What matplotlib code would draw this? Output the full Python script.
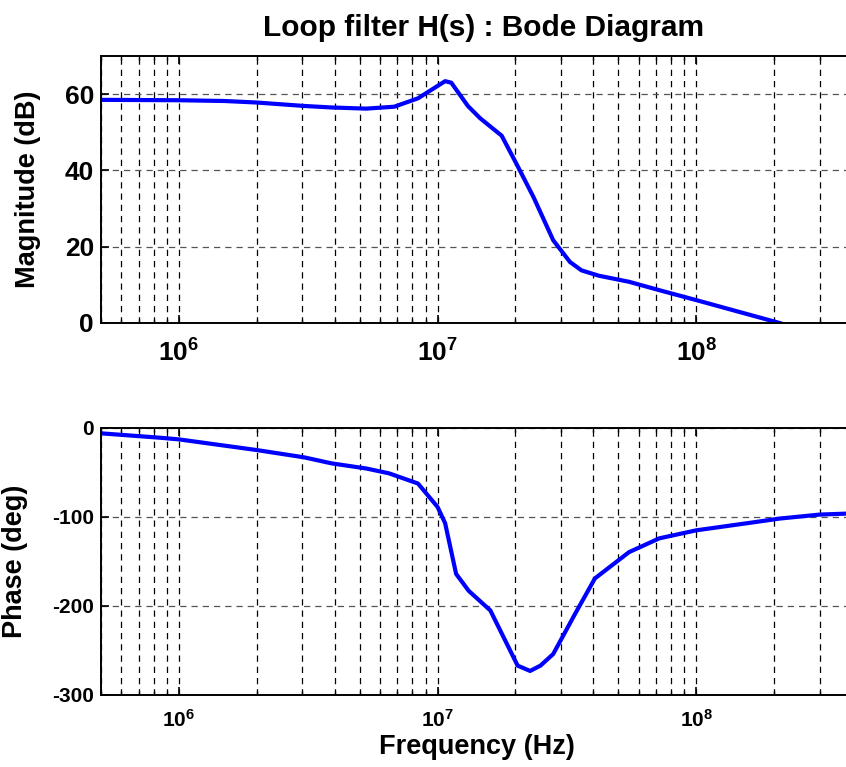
import numpy as np
import matplotlib
matplotlib.use('Agg')
import matplotlib.pyplot as plt
from matplotlib.ticker import LogLocator, NullFormatter

plt.rcParams['font.family'] = ['Liberation Sans', 'DejaVu Sans']
plt.rcParams['font.weight'] = 'bold'
plt.rcParams['mathtext.fontset'] = 'custom'
plt.rcParams['mathtext.rm'] = 'Liberation Sans:bold'
plt.rcParams['mathtext.bf'] = 'Liberation Sans:bold'
plt.rcParams['axes.unicode_minus'] = False

# Magnitude response (Hz, dB)
mag_freq = [5e5, 1e6, 1.5e6, 2e6, 3.05e6, 3.9e6, 5.3e6, 6.8e6, 8.4e6, 1.07e7,
            1.13e7, 1.31e7, 1.46e7, 1.77e7, 2.02e7, 2.35e7, 2.8e7, 3.25e7,
            3.6e7, 4.2e7, 5.5e7, 7.2e7, 1e8, 2.1e8, 4e8]
mag_db = [58.5, 58.4, 58.2, 57.8, 56.9, 56.5, 56.2, 56.7, 58.9, 63.4,
          63.0, 56.9, 53.7, 49.1, 41.7, 33.0, 21.7, 16.0,
          13.8, 12.4, 10.8, 8.6, 6.0, 0.0, -6.0]

# Phase response (Hz, deg)
ph_freq = [5e5, 8.5e5, 1e6, 2e6, 3.05e6, 3.9e6, 5.3e6, 6.5e6, 8.4e6, 1e7,
           1.07e7, 1.18e7, 1.32e7, 1.6e7, 2.04e7, 2.28e7, 2.5e7, 2.8e7,
           3.4e7, 4.06e7, 5.5e7, 7.2e7, 1e8, 1.6e8, 2.1e8, 3e8, 4e8]
ph_deg = [-6, -11, -12.8, -24.8, -33, -39.8, -45.5, -51, -62.4, -88.7,
          -107, -164, -183, -205, -267, -273, -267, -254,
          -209, -169, -139.5, -124, -115, -106.7, -101.8, -97.3, -96]

xlim = (5e5, 4e8)
xticks = [1e6, 1e7, 1e8]

fig = plt.figure(figsize=(8.46, 7.67), dpi=100)
ax1 = fig.add_axes([0.1194, 0.5789, 0.8876, 0.3481])
ax2 = fig.add_axes([0.1194, 0.0939, 0.8876, 0.3481])

grid_kw = dict(linestyle=(0, (5, 4)), linewidth=0.9)


def style_axis(ax, labelsize):
    ax.set_xscale('log')
    ax.set_xlim(*xlim)
    ax.set_xticks(xticks)
    ax.set_xticklabels([r'$\mathbf{10^{%d}}$' % int(np.log10(t)) for t in xticks])
    ax.xaxis.set_minor_locator(LogLocator(base=10, subs=np.arange(2, 10)))
    ax.xaxis.set_minor_formatter(NullFormatter())
    ax.grid(True, which='major', axis='x', color='black', **grid_kw)
    ax.grid(True, which='minor', axis='x', color='black', **grid_kw)
    ax.grid(True, which='major', axis='y', color='#555555', **grid_kw)
    ax.tick_params(which='both', direction='in', top=True, right=False)
    ax.tick_params(which='major', length=6, width=1.2, labelsize=labelsize)
    ax.tick_params(which='minor', length=3, width=1.0)
    for s in ax.spines.values():
        s.set_linewidth(1.4)
    ax.set_axisbelow(True)


ax1.plot(mag_freq, mag_db, color='#0000ff', linewidth=3)
style_axis(ax1, 19)
ax1.set_ylim(0, 70)
ax1.set_yticks([0, 20, 40, 60])
ax1.tick_params(axis='x', pad=12)
ax1.tick_params(axis='y', pad=5)
ax1.set_ylabel('Magnitude (dB)', fontsize=19.5, fontweight='bold')
ax1.yaxis.set_label_coords(-0.080, 0.5)
fig.text(0.572, 0.963, 'Loop filter H(s) : Bode Diagram', ha='center', va='center',
         fontsize=21.5, fontweight='bold')

ax2.plot(ph_freq, ph_deg, color='#0000ff', linewidth=3)
style_axis(ax2, 15)
ax2.set_ylim(-300, 0)
ax2.set_yticks([-300, -200, -100, 0])
ax2.tick_params(axis='x', pad=10)
ax2.tick_params(axis='y', pad=5)
ax2.set_ylabel('Phase (deg)', fontsize=19.5, fontweight='bold')
ax2.yaxis.set_label_coords(-0.097, 0.5)
ax2.set_xlabel('Frequency (Hz)', fontsize=19.5, fontweight='bold', labelpad=2)

fig.savefig('out.png', dpi=100)
